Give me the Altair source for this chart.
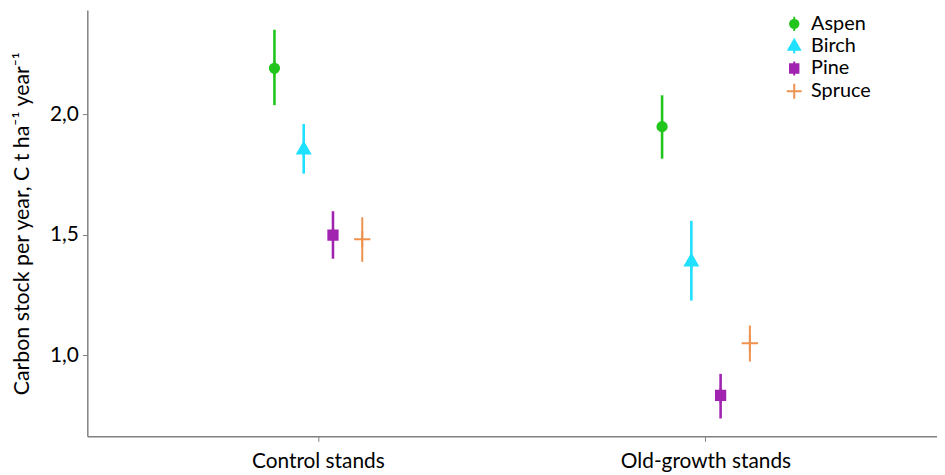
import altair as alt
import pandas as pd

stands = ["Control stands"] * 4 + ["Old-growth stands"] * 4
species = ["Aspen", "Birch", "Pine", "Spruce"] * 2
mean = [2.19, 1.855, 1.498, 1.481, 1.948, 1.39, 0.833, 1.049]
lower = [2.037, 1.753, 1.40, 1.387, 1.815, 1.226, 0.737, 0.973]
upper = [2.35, 1.959, 1.597, 1.572, 2.078, 1.557, 0.922, 1.123]

species_order = ["Aspen", "Birch", "Pine", "Spruce"]
colors = ["#22c51c", "#1fe0ff", "#a024b0", "#ee9250"]
shapes = [
    "M-0.85,0A0.85,0.85 0 1,1 0.85,0A0.85,0.85 0 1,1 -0.85,0Z M0,-1.45L0,1.45",
    "M0,-1.2L1.15,0.8L-1.15,0.8Z M0,0.8L0,1.6",
    "M-0.85,-0.85L0.85,-0.85L0.85,0.85L-0.85,0.85Z M0,-1.4L0,1.4",
    "M-1.5,0L1.5,0M0,-1.5L0,1.5",
]

df = pd.DataFrame({"stand": stands, "species": species, "mean": mean,
                   "lower": lower, "upper": upper})

FONT = "Lato"

x = alt.X("stand:N", title=None,
          scale=alt.Scale(paddingInner=0.698, paddingOuter=0.445),
          axis=alt.Axis(labelAngle=0, labelFontSize=21, labelFont=FONT, labelColor="#000",
                        domainColor="#808080", domainWidth=1.5, tickColor="#808080",
                        tickSize=5, labelPadding=9))
xo = alt.XOffset("species:N", sort=species_order,
                 scale=alt.Scale(paddingInner=0, paddingOuter=0))
yscale = alt.Scale(domain=[0.663, 2.432], nice=False, zero=False)
yaxis = alt.Axis(values=[1.0, 1.5, 2.0], grid=False,
                 labelExpr="replace(format(datum.value, '.1f'), '.', ',')",
                 labelFontSize=21, labelFont=FONT, labelColor="#000",
                 domainColor="#808080", domainWidth=1.5, tickColor="#808080",
                 tickSize=5, labelPadding=4,
                 title="Carbon stock per year, C t ha\u207b\u00b9 year\u207b\u00b9",
                 titleFont=FONT, titleFontSize=21.5, titleFontWeight="normal",
                 titleColor="#000", titlePadding=16)

cscale = alt.Scale(domain=species_order, range=colors)
legend = alt.Legend(title=None, orient="none", legendX=703, legendY=4,
                    labelFont=FONT, labelFontSize=20, labelColor="#000",
                    symbolSize=100, rowPadding=0, padding=0,
                    symbolStrokeWidth=2, labelOffset=7)

rules = alt.Chart(df).mark_rule().encode(
    x=x, xOffset=xo,
    y=alt.Y("lower:Q", scale=yscale, axis=yaxis),
    y2="upper:Q",
    color=alt.Color("species:N", scale=cscale, sort=species_order, legend=legend),
    strokeWidth=alt.condition("datum.species == 'Spruce'", alt.value(2), alt.value(2.6)),
)

points = alt.Chart(df).mark_point(filled=True, opacity=1, strokeWidth=2, size=121).encode(
    x=x, xOffset=xo,
    y=alt.Y("mean:Q", scale=yscale),
    color=alt.Color("species:N", scale=cscale, sort=species_order, legend=legend),
    stroke=alt.Stroke("species:N", scale=cscale, sort=species_order, legend=legend),
    shape=alt.Shape("species:N", sort=species_order,
                    scale=alt.Scale(domain=species_order, range=shapes), legend=legend),
)

chart = (rules + points).properties(
    width=857, height=430,
    padding={"left": 3, "top": 0, "right": 0, "bottom": 0},
).configure_view(stroke=None)

chart.save("out.html", embed_options={"renderer": "svg", "actions": False})
